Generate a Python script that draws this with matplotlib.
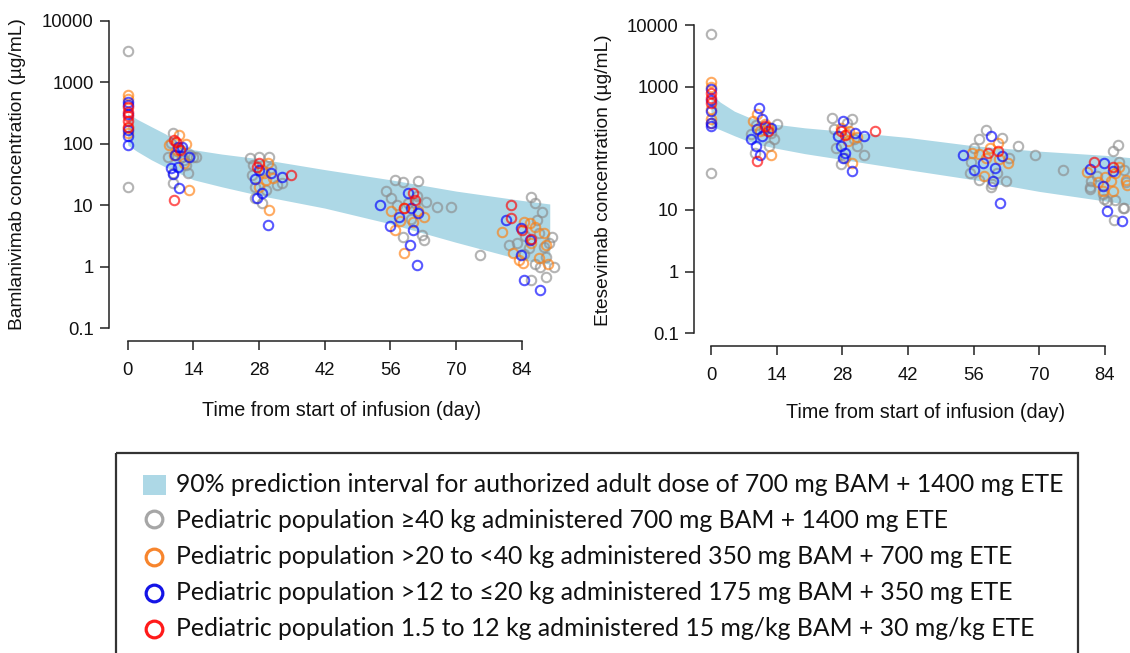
import numpy as np
import matplotlib
matplotlib.use("Agg")
import matplotlib.pyplot as plt
from matplotlib.patches import Rectangle

# 90% prediction interval (adult dose)
band_day = [0, 2, 5, 8, 11, 14, 20, 28, 42, 56, 70, 84, 90]
bam_upper = [310, 250, 190, 145, 105, 80, 68, 57, 38, 26, 17, 12, 10.5]
bam_lower = [95, 75, 55, 42, 33, 26, 20, 14.5, 9, 5, 2.5, 1.3, 1.1]
ete_upper = [750, 560, 400, 320, 275, 245, 215, 190, 150, 110, 90, 77, 70]
ete_lower = [230, 200, 160, 130, 112, 100, 82, 66, 45, 31, 20, 14, 12]

# Bamlanivimab observations per weight group (day, ug/mL)
bam_gray_day = [0, 0,
                9.7, 9.3, 8.5, 11.6, 13.2, 14.5, 9.7, 12.8, 12.0, 9.7, 14.0, 10.5, 12.5,
                26.0, 27.9, 30.2, 26.4, 27.1, 27.1, 28.7, 31.8, 33.0, 30.6, 28.7, 29.5, 26.8,
                57.0, 58.8, 62.0, 55.1, 56.2, 58.6, 62.8, 63.2, 65.9, 69.0, 63.6, 61.3, 59.7,
                61.7, 57.5, 60.5,
                86.1, 86.9, 88.4, 87.3, 87.6, 88.8, 89.2, 90.4, 91.0, 89.2, 86.1, 75.2, 81.4,
                83.0, 84.5, 86.9, 88.0, 84.8, 85.5, 89.8]
bam_gray_conc = [3240, 20,
                 147, 102, 62, 62, 66, 62, 33, 33, 54, 23, 62, 75, 45,
                 58, 62, 62, 31, 20, 13, 10.7, 21, 23, 40, 37, 18, 45,
                 26, 24, 25, 17, 13, 3.0, 3.3, 2.7, 9.2, 9.2, 11.5, 11, 11,
                 14, 10, 6,
                 13.8, 10.7, 7.9, 5.8, 3.5, 2.1, 1.46, 3.0, 1.0, 0.69, 0.61, 1.56, 2.3,
                 2.4, 1.6, 1.1, 1.0, 3.2, 2.0, 2.4]
bam_orange_day = [0, 0, 0, 0,
                  11.0, 8.9, 12.4, 9.9, 12.0, 13.0, 10.6,
                  29.9, 29.1, 29.5, 30.2, 27.9, 31.0,
                  56.2, 57.0, 58.9, 60.9, 63.2, 58.9, 58.0, 62.0,
                  79.9, 82.2, 83.4, 84.5, 85.7, 86.9, 87.6, 88.8, 89.2, 89.6, 84.2, 86.1]
bam_orange_conc = [620, 540, 180, 150,
                   139, 95, 99, 66, 48, 18, 78,
                   48, 33, 26, 8.4, 20, 28,
                   8.2, 4.0, 8.9, 5.4, 6.5, 1.65, 5.5, 8.0,
                   3.7, 1.65, 1.3, 5.4, 5.1, 4.5, 1.37, 3.5, 2.3, 1.1, 1.14, 2.4]
bam_blue_day = [0, 0, 0, 0, 0, 0,
                10.1, 10.7, 11.5, 9.3, 10.7, 9.7, 10.9, 13.0,
                27.1, 27.9, 28.7, 30.6, 33.0, 29.9, 27.5,
                53.9, 56.0, 57.8, 59.7, 60.1, 60.9, 61.7, 62.0, 60.5,
                80.7, 83.8, 83.8, 85.7, 84.5, 88.0]
bam_blue_conc = [480, 430, 300, 170, 135, 95,
                 66, 90, 88, 41, 42, 32, 19, 62,
                 27, 37, 16, 33, 29, 4.8, 13,
                 10, 4.6, 6.5, 15.6, 2.3, 4.0, 1.07, 7.4, 9,
                 5.8, 4.2, 1.56, 2.7, 0.61, 0.42]
bam_red_day = [0, 0, 0, 0, 0,
               9.9, 10.3, 9.9, 11.2,
               27.9, 27.5, 34.9,
               60.9, 58.9, 61.3,
               81.8, 81.8, 85.9, 84.0]
bam_red_conc = [400, 330, 280, 230, 190,
                115, 108, 12, 80,
                48, 42, 31,
                15.6, 8.9, 12,
                10, 6.1, 2.8, 4.0]

# Etesevimab observations per weight group (day, ug/mL)
ete_gray_day = [0, 0,
                8.6, 9.4, 12.4, 12.8, 14.0, 11.3, 9.5, 13.5,
                25.8, 30.0, 26.2, 27.7, 31.2, 32.7, 30.4, 26.6, 28.5, 29.0,
                58.6, 57.1, 62.1, 65.5, 69.0, 55.2, 57.1, 59.8, 62.8, 75.1, 56.0, 63.6,
                60.0, 61.0, 55.5,
                86.8, 85.8, 86.1, 86.0, 87.9, 80.8, 81.0, 88.0, 88.5, 83.6, 83.8, 82.2,
                80.8, 88.0, 84.5, 87.0]
ete_gray_conc = [7140, 40,
                 169, 85, 109, 178, 245, 200, 240, 140,
                 315, 296, 203, 55, 109, 79, 140, 100, 70, 260,
                 195, 140, 149, 109, 77, 40, 31, 24, 29, 45, 100, 70,
                 26, 40, 60,
                 113, 92, 14.5, 6.9, 10.6, 22, 30, 45, 28, 18, 15, 35,
                 24, 10.7, 14, 60]
ete_orange_day = [0, 0, 0, 0, 0,
                  9.0, 9.8, 11.5, 12.8, 12.1, 10.5,
                  27.7, 28.9, 29.2, 30.0, 31.2, 29.5,
                  55.6, 57.1, 58.6, 61.1, 61.5, 63.4, 58.2, 59.5,
                  80.1, 83.6, 85.3, 88.5, 84.0, 85.8, 86.2, 88.8, 82.5, 87.0]
ete_orange_conc = [1170, 975, 430, 295, 261,
                   278, 356, 250, 79, 220, 190,
                   216, 169, 130, 58, 150, 190,
                   85, 80, 70, 123, 66, 58, 35, 100,
                   42, 20, 29, 31, 34, 20, 40, 25, 28, 50]
ete_blue_day = [0, 0, 0, 0, 0,
                10.2, 10.9, 9.8, 8.6, 10.9, 12.8, 10.5, 9.6,
                28.1, 27.0, 27.7, 28.5, 28.1, 30.0, 30.8, 32.7,
                53.7, 56.0, 57.9, 59.8, 60.6, 60.2, 61.7, 62.1,
                80.8, 83.8, 85.8, 83.6, 84.5, 87.7]
ete_blue_conc = [910, 403, 261, 230, 600,
                 457, 296, 203, 140, 158, 216, 79, 109,
                 278, 158, 109, 85, 70, 43, 180, 158,
                 77, 45, 58, 158, 48, 29, 13, 75,
                 46, 57, 43, 24.5, 9.7, 6.6]
ete_red_day = [0, 0, 0,
               9.8, 11.5, 12.1,
               27.7, 35.0, 28.5,
               59.0, 61.1,
               81.7, 85.8]
ete_red_conc = [800, 665, 552,
                62, 230, 190,
                191, 191, 165,
                85, 90,
                61, 49]

x_ticks = [0, 14, 28, 42, 56, 70, 84]
y_ticks = [0.1, 1, 10, 100, 1000, 10000]
y_tick_labels = ["0.1", "1", "10", "100", "1000", "10000"]

legend_labels = [
    "90% prediction interval for authorized adult dose of 700 mg BAM + 1400 mg ETE",
    "Pediatric population \u226540 kg administered 700 mg BAM + 1400 mg ETE",
    "Pediatric population >20 to <40 kg administered 350 mg BAM + 700 mg ETE",
    "Pediatric population >12 to \u226420 kg administered 175 mg BAM + 350 mg ETE",
    "Pediatric population 1.5 to 12 kg administered 15 mg/kg BAM + 30 mg/kg ETE",
]

BAND_COLOR = "#add8e6"
GROUP_COLORS = ["#8c8c8c", "#ff7f0e", "#0000ff", "#ff0000"]
LEGEND_COLORS = ["#a6a6a6", "#f7852d", "#1414e6", "#ff1a1a"]

W, H = 1130, 653


def draw_panel(ax, upper, lower, groups, xlim):
    ax.fill_between(band_day, lower, upper, color=BAND_COLOR, lw=0, zorder=1)
    for (days, conc), col in zip(groups, GROUP_COLORS):
        ax.plot(days, conc, "o", mfc="none", mec=col, mew=1.5, ms=6.8,
                alpha=0.65, zorder=3, clip_on=False)

    ax.set_yscale("log")
    ax.set_ylim(10 ** -1.2, 10 ** 4.2)
    ax.set_xlim(*xlim)
    ax.set_yticks(y_ticks)
    ax.set_yticklabels(y_tick_labels)
    ax.yaxis.set_minor_locator(matplotlib.ticker.NullLocator())
    ax.set_xticks(x_ticks)

    for side in ["top", "right"]:
        ax.spines[side].set_visible(False)
    ax.spines["left"].set_bounds(0.1, 10000)
    ax.spines["bottom"].set_bounds(0, 84)
    for side in ["left", "bottom"]:
        ax.spines[side].set_linewidth(1.1)
        ax.spines[side].set_color("#222222")
    ax.tick_params(axis="both", direction="out", length=6.5, width=1.1,
                   colors="#222222", labelsize=13.3, labelcolor="#111111")
    ax.tick_params(axis="y", pad=4.5)
    ax.tick_params(axis="x", pad=9)
    ax.patch.set_alpha(0)


def main():
    plt.rcParams["font.family"] = ["Liberation Sans", "DejaVu Sans"]

    fig = plt.figure(figsize=(W / 100, H / 100), dpi=100)

    # left panel: Bamlanivimab
    ax1 = fig.add_axes([109 / W, 1 - 340.6 / H, (573.2 - 109) / W, 332.2 / H])
    draw_panel(ax1, bam_upper, bam_lower,
               [(bam_gray_day, bam_gray_conc), (bam_orange_day, bam_orange_conc),
                (bam_blue_day, bam_blue_conc), (bam_red_day, bam_red_conc)],
               (-4.0, 95.0))

    # right panel: Etesevimab (cut off at the right edge)
    ax2 = fig.add_axes([694 / W, 1 - 345.6 / H, (W - 694) / W, 332.9 / H])
    draw_panel(ax2, ete_upper, ete_lower,
               [(ete_gray_day, ete_gray_conc), (ete_orange_day, ete_orange_conc),
                (ete_blue_day, ete_blue_conc), (ete_red_day, ete_red_conc)],
               (-3.62, 89.34))

    fig.text(18 / W, 1 - 174.5 / H, "Bamlanivimab concentration (\u00b5g/mL)",
             rotation=90, ha="center", va="center", fontsize=13.8, color="#111111")
    fig.text(604 / W, 1 - 180 / H, "Etesevimab concentration (\u00b5g/mL)",
             rotation=90, ha="center", va="center", fontsize=13.8, color="#111111")
    fig.text(341.7 / W, 1 - 410 / H, "Time from start of infusion (day)",
             ha="center", va="center", fontsize=14.2, color="#111111")
    fig.text(926 / W, 1 - 413 / H, "Time from start of infusion (day)",
             ha="center", va="center", fontsize=14.2, color="#111111")

    # legend box drawn in pixel coordinates
    lax = fig.add_axes([0, 0, 1, 1])
    lax.set_xlim(0, W)
    lax.set_ylim(H, 0)
    lax.axis("off")
    lax.add_patch(Rectangle((116, 452.7), 1078 - 116, 230, fill=False,
                            lw=1.6, ec="#333333", clip_on=False))
    lax.add_patch(Rectangle((143, 475), 22.7, 20, color=BAND_COLOR, lw=0))
    marker_y = [519, 556.7, 592.7, 629]
    for yy, col in zip(marker_y, LEGEND_COLORS):
        lax.plot(154.3, yy, "o", mfc="none", mec=col, mew=2.3, ms=12)
    text_y = [485, 521, 556.7, 592, 628]
    for yy, label in zip(text_y, legend_labels):
        lax.text(176, yy, label, ha="left", va="center", fontsize=17.8,
                 family=["Lato", "DejaVu Sans"], color="#111111")

    fig.savefig("out.png", dpi=100)


if __name__ == "__main__":
    main()
